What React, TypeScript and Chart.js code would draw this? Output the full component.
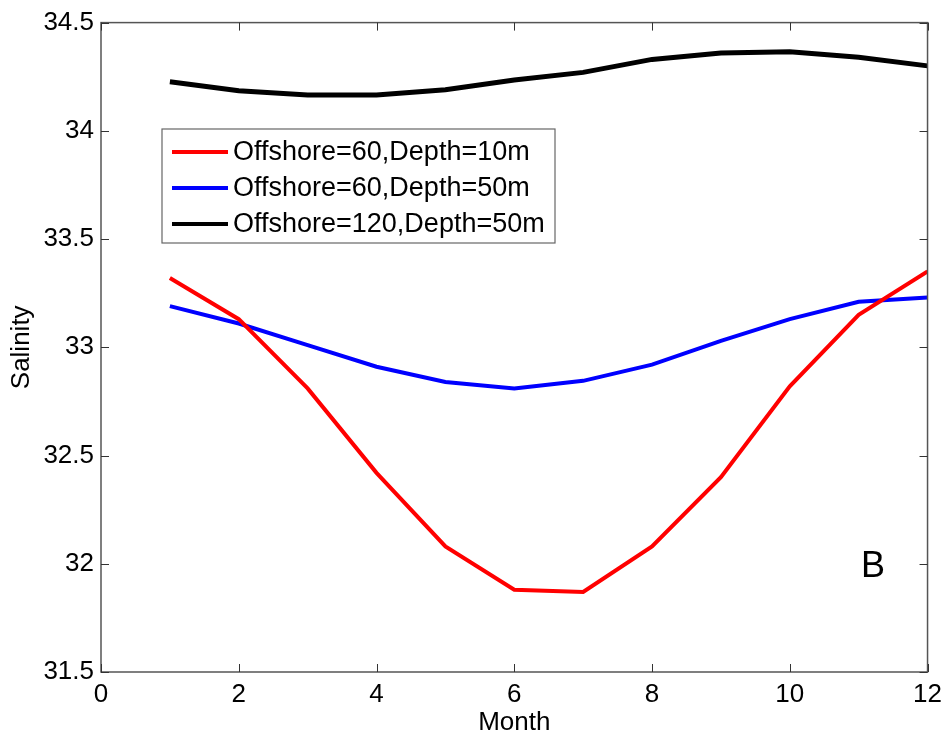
import React, { useEffect, useRef } from "react";
import { Chart, registerables } from "chart.js";

Chart.register(...registerables);

const months = [1, 2, 3, 4, 5, 6, 7, 8, 9, 10, 11, 12];
const red10m = [33.32, 33.13, 32.81, 32.42, 32.08, 31.88, 31.87, 32.08, 32.4, 32.82, 33.15, 33.35];
const blue50m = [33.19, 33.11, 33.01, 32.91, 32.84, 32.81, 32.845, 32.92, 33.03, 33.13, 33.21, 33.23];
const black120 = [34.227, 34.185, 34.166, 34.166, 34.19, 34.235, 34.27, 34.33, 34.36, 34.365, 34.34, 34.3];
const seriesLabels = ["Offshore=60,Depth=10m", "Offshore=60,Depth=50m", "Offshore=120,Depth=50m"];
const seriesColors = ["#ff0000", "#0000ff", "#000000"];
const yTicks = [31.5, 32, 32.5, 33, 33.5, 34, 34.5];
const xTicks = [0, 2, 4, 6, 8, 10, 12];

const FONT = "Arial, 'Liberation Sans', sans-serif";

const framePlugin = {
  id: "frame",
  afterDraw(chart: any) {
    const { ctx, chartArea } = chart;
    const { left, right, top, bottom } = chartArea;
    const xs = chart.scales.x;
    const ys = chart.scales.y;
    ctx.save();
    ctx.strokeStyle = "#555";
    ctx.lineWidth = 1.5;
    ctx.strokeRect(left, top, right - left, bottom - top);
    ctx.lineWidth = 1;
    ctx.strokeStyle = "#333";
    const tl = 8;
    xTicks.forEach((v) => {
      const px = Math.round(xs.getPixelForValue(v)) + 0.5;
      ctx.beginPath();
      ctx.moveTo(px, bottom);
      ctx.lineTo(px, bottom - tl);
      ctx.moveTo(px, top);
      ctx.lineTo(px, top + tl);
      ctx.stroke();
    });
    yTicks.forEach((v) => {
      const py = Math.round(ys.getPixelForValue(v)) + 0.5;
      ctx.beginPath();
      ctx.moveTo(left, py);
      ctx.lineTo(left + tl, py);
      ctx.moveTo(right, py);
      ctx.lineTo(right - tl, py);
      ctx.stroke();
    });

    // legend box
    const bx = 162, by = 129, bw = 393, bh = 114;
    ctx.fillStyle = "#fff";
    ctx.fillRect(bx, by, bw, bh);
    ctx.strokeStyle = "#666";
    ctx.lineWidth = 1.2;
    ctx.strokeRect(bx, by, bw, bh);
    const rowY = [152, 188, 224];
    ctx.font = `27px ${FONT}`;
    ctx.textBaseline = "middle";
    ctx.textAlign = "left";
    chart.data.datasets.forEach((ds: any, i: number) => {
      ctx.strokeStyle = ds.borderColor;
      ctx.lineWidth = 4;
      ctx.beginPath();
      ctx.moveTo(172, rowY[i]);
      ctx.lineTo(228, rowY[i]);
      ctx.stroke();
      ctx.fillStyle = "#000";
      ctx.fillText(ds.label, 233, rowY[i] + 1);
    });

    // panel label
    ctx.font = `36px ${FONT}`;
    ctx.fillStyle = "#000";
    ctx.textAlign = "center";
    ctx.fillText("B", 873, 567);
    ctx.restore();
  },
};

export default function App() {
  const ref = useRef<HTMLCanvasElement | null>(null);
  useEffect(() => {
    document.body.style.margin = "0";
    const canvas = ref.current!;
    const mk = (arr: number[]) => months.map((m, i) => ({ x: m, y: arr[i] }));
    const chart = new Chart(canvas, {
      type: "line",
      data: {
        datasets: [red10m, blue50m, black120].map((arr, i) => ({
          label: seriesLabels[i],
          data: mk(arr),
          borderColor: seriesColors[i],
          backgroundColor: seriesColors[i],
          borderWidth: i === 2 ? 5 : 4,
          pointRadius: 0,
          tension: 0,
          fill: false,
        })),
      },
      options: {
        animation: false,
        responsive: false,
        devicePixelRatio: 1,
        layout: { padding: { top: 22, right: 20, left: 0, bottom: 0 } },
        plugins: { legend: { display: false }, tooltip: { enabled: false } },
        scales: {
          x: {
            type: "linear",
            min: 0,
            max: 12,
            grid: { display: false, drawTicks: false },
            border: { display: false },
            afterBuildTicks: (s: any) => {
              s.ticks = xTicks.map((v) => ({ value: v }));
            },
            afterFit: (s: any) => {
              s.height = 74;
            },
            ticks: {
              padding: 7,
              color: "#000",
              font: { family: FONT, size: 26 },
              maxRotation: 0,
              autoSkip: false,
            },
            title: {
              display: true,
              text: "Month",
              color: "#000",
              font: { family: FONT, size: 26 },
              padding: { top: 0, bottom: 8 },
            },
          },
          y: {
            type: "linear",
            min: 31.5,
            max: 34.5,
            grid: { display: false, drawTicks: false },
            border: { display: false },
            afterBuildTicks: (s: any) => {
              s.ticks = yTicks.map((v) => ({ value: v }));
            },
            afterFit: (s: any) => {
              s.width = 101;
            },
            ticks: {
              padding: 7,
              color: "#000",
              font: { family: FONT, size: 26 },
              autoSkip: false,
              callback: (v: any) => String(v),
            },
            title: {
              display: true,
              text: "Salinity",
              color: "#000",
              font: { family: FONT, size: 26 },
              padding: { top: 6, bottom: 0 },
            },
          },
        },
      },
      plugins: [framePlugin],
    });
    return () => chart.destroy();
  }, []);
  return (
    <div style={{ width: 949, height: 746, background: "#fff" }}>
      <canvas ref={ref} width={949} height={746} style={{ display: "block" }} />
    </div>
  );
}
